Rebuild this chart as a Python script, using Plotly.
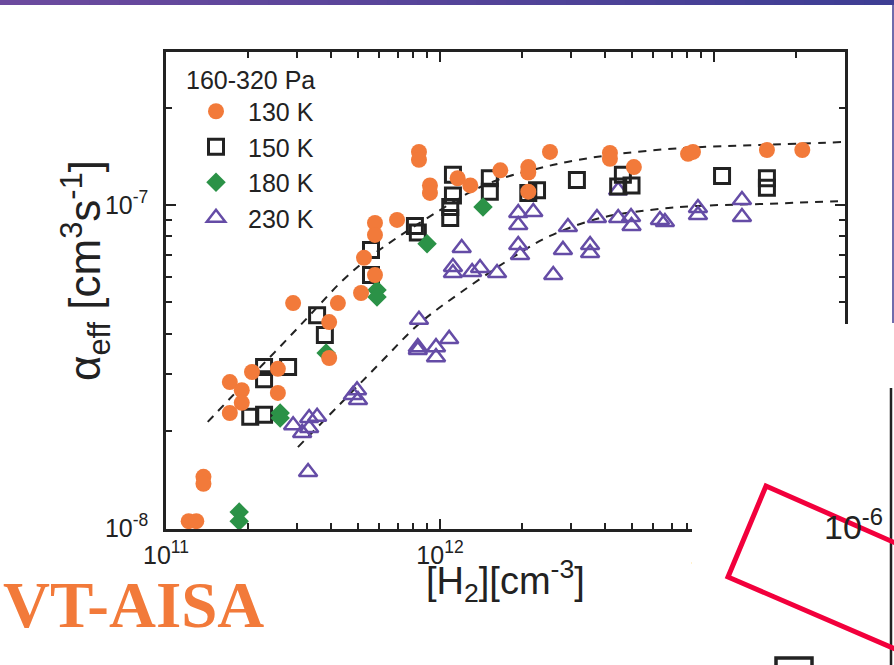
import plotly.graph_objects as go

# ---------------- data ----------------
x130 = [1.21e11, 1.29e11, 1.37e11, 1.37e11, 1.71e11, 1.89e11, 1.89e11, 1.71e11, 2.06e11, 2.56e11,
        2.56e11, 2.91e11, 4.24e11, 5.15e11, 3.94e11, 3.94e11, 5.28e11, 5.79e11, 5.79e11, 5.79e11,
        6.97e11, 8.38e11, 8.38e11, 9.19e11, 9.19e11, 1.16e12, 1.29e12, 1.66e12, 2.10e12, 2.10e12,
        2.10e12, 2.52e12, 4.17e12, 4.17e12, 5.10e12, 8.04e12, 8.38e12, 1.56e13, 2.10e13]
y130 = [1.05e-8, 1.05e-8, 1.44e-8, 1.37e-8, 2.83e-8, 2.67e-8, 2.44e-8, 2.27e-8, 3.04e-8, 3.11e-8,
        2.62e-8, 4.97e-8, 4.97e-8, 5.34e-8, 4.34e-8, 3.36e-8, 6.86e-8, 6.07e-8, 8.80e-8, 8.08e-8,
        8.99e-8, 1.46e-7, 1.38e-7, 1.15e-7, 1.09e-7, 1.21e-7, 1.15e-7, 1.28e-7, 1.31e-7, 1.26e-7,
        1.10e-7, 1.46e-7, 1.45e-7, 1.39e-7, 1.31e-7, 1.44e-7, 1.46e-7, 1.48e-7, 1.48e-7]

x150 = [2.03e11, 2.28e11, 2.28e11, 2.28e11, 2.79e11, 3.56e11, 3.80e11, 5.60e11, 5.60e11, 8.10e11,
        8.30e11, 1.115e12, 1.115e12, 1.09e12, 1.09e12, 1.52e12, 1.52e12, 2.10e12, 2.26e12, 3.16e12,
        4.65e12, 4.47e12, 5.00e12, 1.07e13, 1.56e13, 1.56e13]
y150 = [2.21e-8, 2.24e-8, 3.15e-8, 2.89e-8, 3.15e-8, 4.56e-8, 3.96e-8, 7.26e-8, 6.07e-8, 8.61e-8,
        8.22e-8, 1.24e-7, 1.07e-7, 9.86e-8, 9.11e-8, 1.21e-7, 1.10e-7, 1.09e-7, 1.11e-7, 1.195e-7,
        1.24e-7, 1.14e-7, 1.15e-7, 1.23e-7, 1.21e-7, 1.13e-7]

x180 = [1.85e11, 1.85e11, 2.61e11, 2.61e11, 3.84e11, 5.89e11, 5.89e11, 8.97e11, 1.435e12]
y180 = [1.12e-8, 1.05e-8, 2.27e-8, 2.19e-8, 3.48e-8, 5.46e-8, 5.19e-8, 7.58e-8, 9.86e-8]

x230 = [2.91e11, 3.14e11, 3.33e11, 3.33e11, 3.56e11, 3.30e11, 4.98e11, 4.81e11, 5.02e11, 8.38e11,
        8.30e11, 8.30e11, 9.67e11, 9.67e11, 1.08e12, 1.20e12, 1.115e12, 1.115e12, 1.31e12, 1.40e12,
        1.615e12, 1.93e12, 1.93e12, 2.19e12, 1.93e12, 1.96e12, 2.93e12, 2.81e12, 2.59e12, 3.53e12,
        3.53e12, 3.74e12, 4.47e12, 4.47e12, 4.98e12, 5.00e12, 6.35e12, 6.62e12, 8.74e12, 8.74e12,
        1.265e13, 1.265e13]
y230 = [2.08e-8, 1.97e-8, 2.19e-8, 2.04e-8, 2.21e-8, 1.49e-8, 2.67e-8, 2.58e-8, 2.49e-8, 4.41e-8,
        3.63e-8, 3.56e-8, 3.63e-8, 3.38e-8, 3.85e-8, 7.36e-8, 6.43e-8, 6.16e-8, 6.20e-8, 6.38e-8,
        6.16e-8, 9.45e-8, 8.67e-8, 9.51e-8, 7.52e-8, 7.00e-8, 8.55e-8, 7.26e-8, 6.07e-8, 7.52e-8,
        7.10e-8, 9.11e-8, 9.11e-8, 1.11e-7, 9.18e-8, 8.61e-8, 8.99e-8, 8.86e-8, 9.79e-8, 9.31e-8,
        1.036e-7, 9.18e-8]

fit_hi_x = [1.42e11, 1.86e11, 2.50e11, 3.35e11, 4.43e11, 5.55e11, 7.03e11, 9.75e11, 1.29e12,
            1.66e12, 2.32e12, 2.91e12, 4.43e12, 7.71e12, 1.47e13, 3.0e13]
fit_hi_y = [2.13e-8, 2.71e-8, 3.51e-8, 4.56e-8, 5.86e-8, 6.90e-8, 7.96e-8, 9.51e-8, 1.097e-7,
            1.204e-7, 1.302e-7, 1.359e-7, 1.438e-7, 1.501e-7, 1.534e-7, 1.567e-7]

fit_lo_x = [3.03e11, 4.32e11, 6.04e11, 8.45e11, 1.183e12, 1.80e12, 2.52e12, 3.84e12, 5.84e12,
            8.67e12, 1.47e13, 3.0e13]
fit_lo_y = [1.78e-8, 2.42e-8, 3.24e-8, 4.31e-8, 5.34e-8, 6.80e-8, 8.02e-8, 9.11e-8, 9.65e-8,
            9.93e-8, 1.007e-7, 1.029e-7]

series_names = ["130 K", "150 K", "180 K", "230 K"]
legend_title = "160-320 Pa"
x_tickvals = [1e11, 1e12, 1e13]
x_ticktext = ["10<sup>11</sup>", "10<sup>12</sup>", "10<sup>13</sup>"]
y_tickvals = [1e-8, 1e-7]
y_ticktext = ["10<sup>-8</sup>", "10<sup>-7</sup>"]

# ---------------- styling ----------------
ORANGE = "#f27a3a"
GREEN = "#2b9247"
PURPLE = "#654ca6"
BLACK = "#222222"
FONT = "Arial, Liberation Sans, Helvetica, sans-serif"

W, H = 894, 665
L, R, T, B = 166, 845, 52, 529


def px(x):
    return (x - L) / (R - L)


def py(y):
    return (B - y) / (B - T)


fig = go.Figure()

for fx, fy in ((fit_hi_x, fit_hi_y), (fit_lo_x, fit_lo_y)):
    fig.add_trace(go.Scatter(x=fx, y=fy, mode="lines", showlegend=False, hoverinfo="skip",
                             line=dict(color=BLACK, width=2, dash="8px,7px", shape="spline")))

fig.add_trace(go.Scatter(x=x230, y=y230, mode="markers", name=series_names[3], legendrank=4,
                         marker=dict(symbol="triangle-up-open", size=16, color=PURPLE,
                                     line=dict(width=2.5, color=PURPLE))))
fig.add_trace(go.Scatter(x=x150, y=y150, mode="markers", name=series_names[1], legendrank=2,
                         marker=dict(symbol="square-open", size=15, color=BLACK,
                                     line=dict(width=3, color=BLACK))))
fig.add_trace(go.Scatter(x=x180, y=y180, mode="markers", name=series_names[2], legendrank=3,
                         marker=dict(symbol="diamond", size=15, color=GREEN)))
fig.add_trace(go.Scatter(x=x130, y=y130, mode="markers", name=series_names[0], legendrank=1,
                         marker=dict(symbol="circle", size=16, color=ORANGE)))

minor_x = [m * 10.0 ** e for e in (11, 12) for m in range(2, 10)] + [2e13, 3e13]
minor_y = [m * 10.0 ** e for e in (-8,) for m in range(2, 10)] + [2e-7]

axis_common = dict(showline=True, linecolor=BLACK, linewidth=2.5, mirror="ticks",
                   ticks="inside", ticklen=10, tickwidth=2, tickcolor=BLACK,
                   showgrid=False, zeroline=False,
                   tickfont=dict(size=25, color=BLACK, family=FONT))

fig.update_xaxes(type="log", range=[11, 11 + (R - L) / 274.0], tickmode="array",
                 tickvals=x_tickvals, ticktext=x_ticktext, ticklabelstandoff=2,
                 minor=dict(tickmode="array", tickvals=minor_x, ticks="inside", ticklen=6,
                            tickwidth=1.8, tickcolor=BLACK, showgrid=False),
                 **axis_common)
fig.update_yaxes(type="log", range=[-8 - 1 / 323.0, -8 + 476 / 323.0], tickmode="array",
                 tickvals=y_tickvals, ticktext=y_ticktext, ticklabelstandoff=10,
                 minor=dict(tickmode="array", tickvals=minor_y, ticks="inside", ticklen=6,
                            tickwidth=1.8, tickcolor=BLACK, showgrid=False),
                 **axis_common)

shapes = []
# purple gradient bar on top
c0 = (108, 74, 158)
c1 = (62, 62, 148)
N = 30
for i in range(N):
    t = i / (N - 1)
    col = "rgb(%d,%d,%d)" % tuple(round(a + (b - a) * t) for a, b in zip(c0, c1))
    shapes.append(dict(type="rect", xref="paper", yref="paper",
                       x0=px(i * W / N), x1=px((i + 1) * W / N + 1), y0=py(5), y1=py(-2),
                       line=dict(width=0), fillcolor=col, layer="above"))
# white panel overlay at bottom right
shapes.append(dict(type="rect", xref="paper", yref="paper", x0=px(692), x1=px(900),
                   y0=py(670), y1=py(324), line=dict(width=0), fillcolor="white", layer="above"))
# thin purple border line on the right (upper)
shapes.append(dict(type="line", xref="paper", yref="paper", x0=px(893), x1=px(893),
                   y0=py(5), y1=py(323), line=dict(color="#3f3b90", width=1.5), layer="above"))
# black axis line of the other panel (lower right)
shapes.append(dict(type="line", xref="paper", yref="paper", x0=px(891), x1=px(891),
                   y0=py(388), y1=py(670), line=dict(color=BLACK, width=2.5), layer="above"))
# red tilted frame
pts = [(900, 545), (766, 486), (728, 577), (900, 651)]
path = "M " + " L ".join("%f,%f" % (px(a), py(b)) for a, b in pts)
shapes.append(dict(type="path", xref="paper", yref="paper", path=path,
                   line=dict(color="#f2003c", width=5), layer="above"))
# partial black square at bottom
shapes.append(dict(type="rect", xref="paper", yref="paper", x0=px(776), x1=px(812),
                   y0=py(700), y1=py(658), line=dict(color=BLACK, width=3.5),
                   fillcolor="rgba(0,0,0,0)", layer="above"))

annotations = [
    dict(text="α<sub>eff</sub> [cm<sup>3</sup>s<sup>-1</sup>]", textangle=-90,
         x=px(85), y=py(271), xref="paper", yref="paper", showarrow=False,
         xanchor="center", yanchor="middle", font=dict(size=44, color=BLACK, family=FONT)),
    dict(text="[H<sub>2</sub>][cm<sup>-3</sup>]", x=px(505), y=py(581), xref="paper",
         yref="paper", showarrow=False, xanchor="center", yanchor="middle",
         font=dict(size=38, color=BLACK, family=FONT)),
    dict(text="<b>VT-AISA</b>", x=px(1), y=py(605), xref="paper", yref="paper",
         showarrow=False, xanchor="left", yanchor="middle",
         font=dict(size=65, color=ORANGE, family="Liberation Serif, Times New Roman, serif")),
    dict(text="10<sup>-6</sup>", x=px(853), y=py(524), xref="paper", yref="paper",
         showarrow=False, xanchor="center", yanchor="middle",
         font=dict(size=34, color=BLACK, family=FONT)),
]

fig.update_layout(
    width=W, height=H, autosize=False,
    margin=dict(l=L, r=W - R, t=T, b=H - B, pad=0),
    paper_bgcolor="white", plot_bgcolor="white",
    font=dict(family=FONT, color=BLACK),
    showlegend=True,
    legend=dict(x=px(184), y=py(56), xanchor="left", yanchor="top",
                bgcolor="rgba(0,0,0,0)", borderwidth=0, traceorder="normal",
                itemwidth=54,
                title=dict(text=legend_title, font=dict(size=25, color=BLACK, family=FONT)),
                font=dict(size=25, color=BLACK, family=FONT), itemsizing="trace"),
    shapes=shapes,
    annotations=annotations,
)

fig.write_html("out.html")
